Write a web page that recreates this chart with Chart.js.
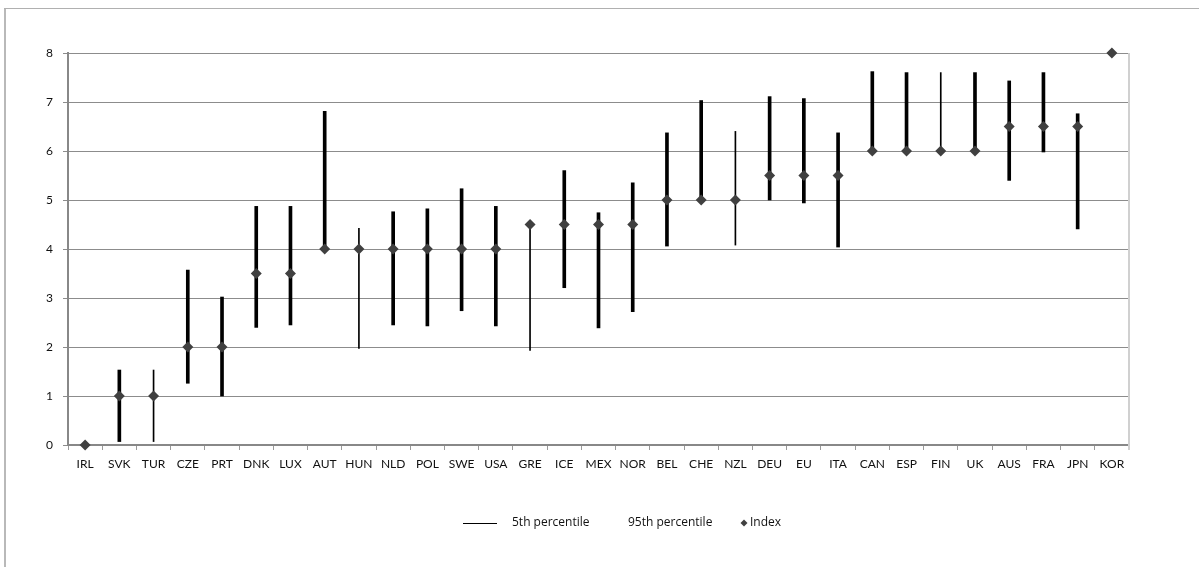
<!DOCTYPE html>
<html>
<head>
<meta charset="utf-8">
<script src="https://cdn.jsdelivr.net/npm/chart.js@4/dist/chart.umd.min.js"></script>
<style>
  html, body { margin: 0; padding: 0; background: #fff; }
  #wrap { position: relative; width: 1199px; height: 567px; }
</style>
</head>
<body>
<div id="wrap"><canvas id="c" width="1199" height="567"></canvas></div>
<script>
const categories = ['IRL','SVK','TUR','CZE','PRT','DNK','LUX','AUT','HUN','NLD','POL','SWE','USA','GRE','ICE','MEX','NOR','BEL','CHE','NZL','DEU','EU','ITA','CAN','ESP','FIN','UK','AUS','FRA','JPN','KOR'];
const indexValues = [0,1,1,2,2,3.5,3.5,4,4,4,4,4,4,4.5,4.5,4.5,4.5,5,5,5,5.5,5.5,5.5,6,6,6,6,6.5,6.5,6.5,8];
const p5  = [null,0.07,0.07,1.26,1.0,2.40,2.45,4.0,1.97,2.45,2.43,2.74,2.43,1.93,3.21,2.39,2.72,4.06,5.0,4.08,5.0,4.94,4.04,6.0,6.0,6.0,6.0,5.40,5.98,4.41,null];
const p95 = [null,1.53,1.53,3.57,3.02,4.87,4.87,6.81,4.42,4.76,4.82,5.23,4.87,4.5,5.60,4.74,5.35,6.37,7.03,6.40,7.11,7.07,6.37,7.62,7.60,7.60,7.60,7.43,7.60,6.76,null];
const yTicks = [0,1,2,3,4,5,6,7,8];
const seriesNames = ['5th percentile','95th percentile','Index'];
// style only: categories whose range line renders thin
const thinRange = ['TUR','HUN','GRE','NZL','FIN'];

const rangeData = (thin) => p5.map((v, i) => {
  if (v == null || p95[i] == null) return null;
  const isThin = thinRange.includes(categories[i]);
  return isThin === thin ? [v, p95[i]] : null;
});

const FONT = 'Lato';

const frame = {
  id: 'frame',
  beforeDraw(chart) {
    const ctx = chart.ctx;
    ctx.save();
    ctx.fillStyle = '#b9b9b9';
    ctx.fillRect(4, 8, 2, 559);
    ctx.fillStyle = '#b0b0b0';
    ctx.fillRect(4, 8, 1195, 1);
    ctx.restore();
  },
  beforeDatasetsDraw(chart) {
    const a = chart.chartArea, ctx = chart.ctx;
    ctx.save();
    ctx.fillStyle = '#d0d0d0';
    ctx.fillRect(Math.round(a.right) - 1, a.top, 2, a.bottom - a.top + 5);
    ctx.restore();
  },
  afterDraw(chart) {
    // legend: line sample / blank sample / diamond sample
    const ctx = chart.ctx;
    const y = 523;
    ctx.save();
    ctx.strokeStyle = '#000';
    ctx.lineWidth = 1;
    ctx.beginPath();
    ctx.moveTo(463, y + 0.5);
    ctx.lineTo(497, y + 0.5);
    ctx.stroke();
    ctx.fillStyle = '#404040';
    ctx.beginPath();
    ctx.moveTo(744, y - 3.5);
    ctx.lineTo(747.5, y);
    ctx.lineTo(744, y + 3.5);
    ctx.lineTo(740.5, y);
    ctx.closePath();
    ctx.fill();
    ctx.fillStyle = '#111';
    ctx.font = '12px "Open Sans"';
    ctx.textBaseline = 'middle';
    ctx.textAlign = 'left';
    ctx.fillText(seriesNames[0], 512, y);
    ctx.fillText(seriesNames[1], 628, y);
    ctx.fillText(seriesNames[2], 750, y);
    ctx.restore();
  }
};

new Chart(document.getElementById('c'), {
  type: 'bar',
  data: {
    labels: categories,
    datasets: [
      {
        type: 'line',
        label: seriesNames[2],
        data: indexValues,
        showLine: false,
        clip: false,
        pointStyle: 'rectRot',
        pointRadius: 5.5,
        pointHoverRadius: 5.5,
        pointBackgroundColor: '#404040',
        pointBorderColor: '#404040',
        pointBorderWidth: 0,
        order: 0
      },
      {
        label: seriesNames[0],
        data: rangeData(false),
        backgroundColor: '#000',
        barThickness: 3,
        grouped: false,
        order: 1
      },
      {
        label: seriesNames[1],
        data: rangeData(true),
        backgroundColor: '#000',
        barThickness: 1,
        grouped: false,
        order: 2
      }
    ]
  },
  options: {
    responsive: false,
    animation: false,
    events: [],
    layout: { padding: { top: 53, right: 70, left: 0, bottom: 91 } },
    scales: {
      x: {
        offset: true,
        grid: { offset: true, drawOnChartArea: false, drawTicks: true, tickLength: 5, color: '#9a9a9a', lineWidth: 1 },
        border: { display: true, color: '#888', width: 2 },
        ticks: { color: '#111', font: { family: FONT, size: 12 }, padding: 7, maxRotation: 0, autoSkip: false },
        afterFit(s) { s.height = 31; }
      },
      y: {
        min: 0, max: 8,
        afterBuildTicks(s) { s.ticks = yTicks.map(v => ({ value: v })); },
        grid: { color: '#8c8c8c', lineWidth: 1, tickLength: 5, drawTicks: true },
        border: { display: true, color: '#888', width: 2 },
        ticks: { color: '#111', font: { family: FONT, size: 12 }, padding: 10 },
        afterFit(s) { s.width = 68; }
      }
    },
    plugins: {
      tooltip: { enabled: false },
      legend: { display: false }
    }
  },
  plugins: [frame]
});
</script>
</body>
</html>
